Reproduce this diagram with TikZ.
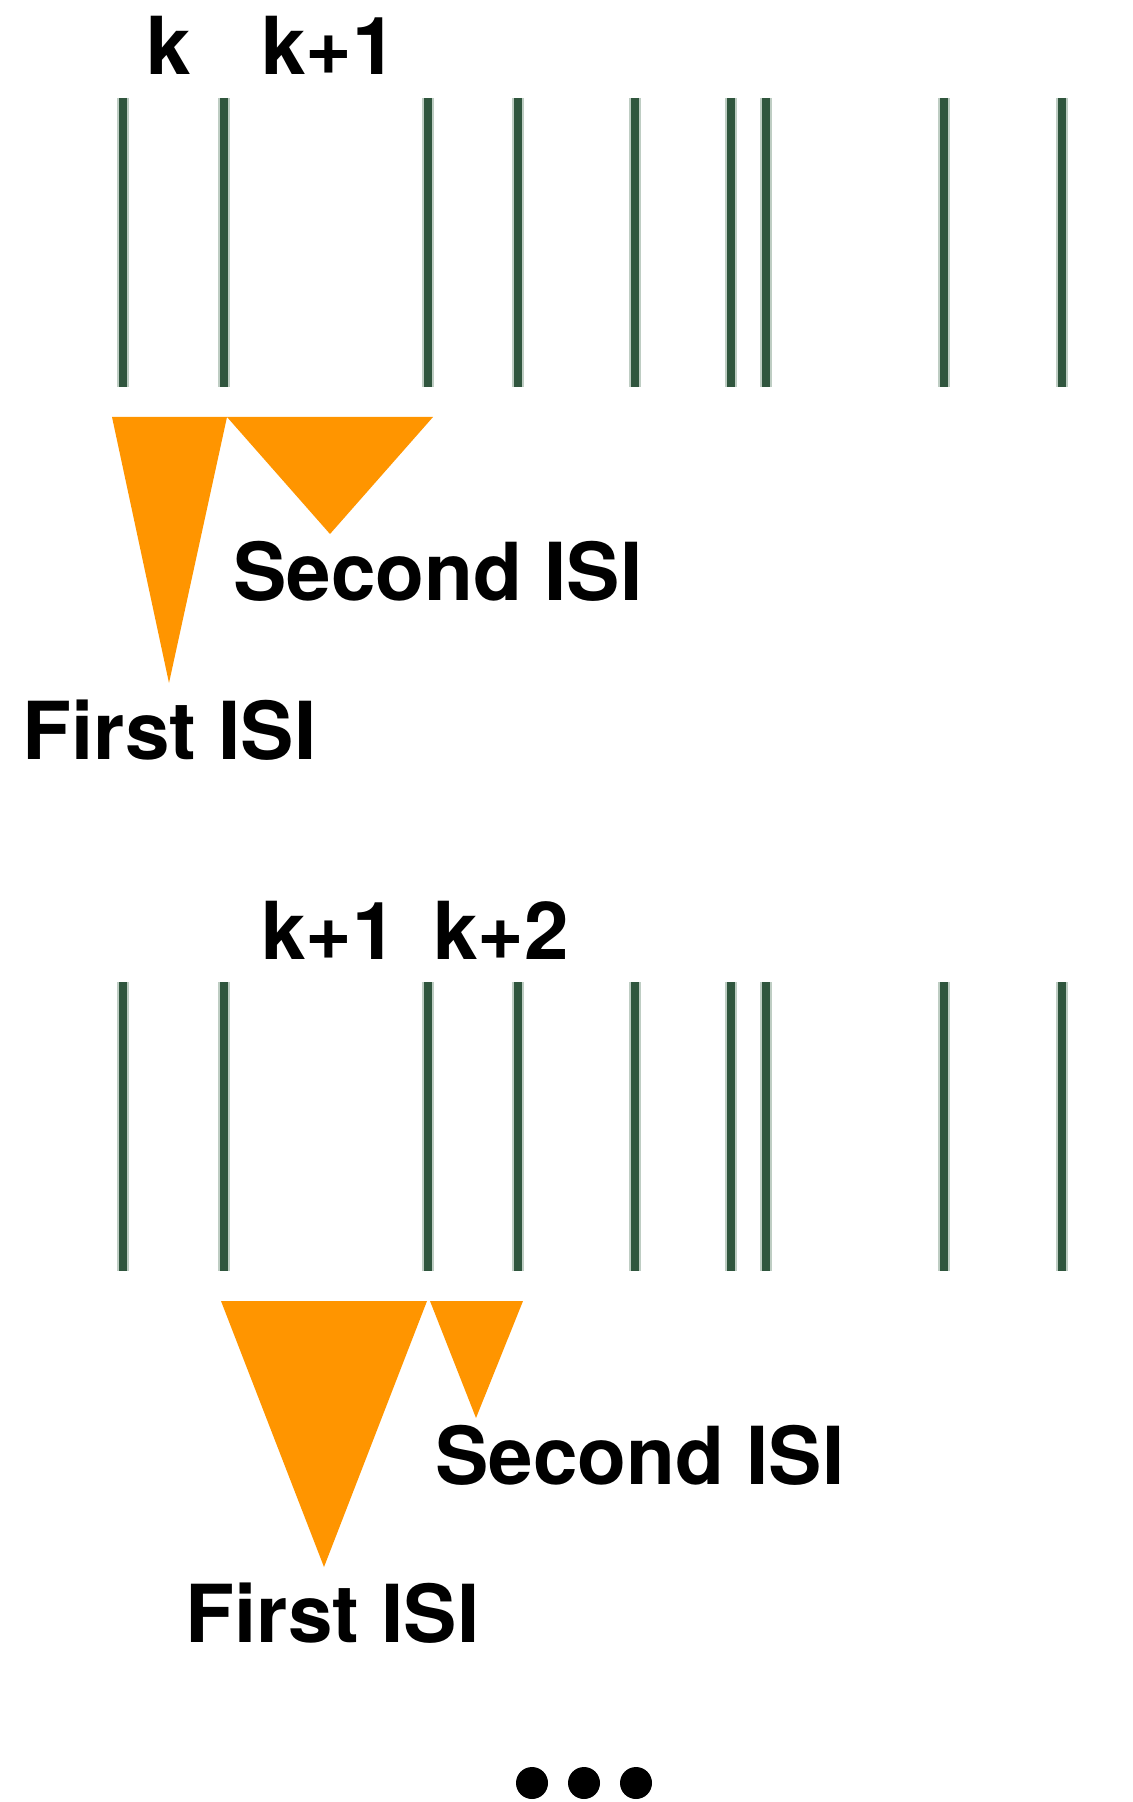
\documentclass[tikz,border=0pt]{standalone}
\usepackage{fontspec}
\setmainfont{TeX Gyre Heros}
\definecolor{spike}{RGB}{48,86,62}
\definecolor{halo}{RGB}{110,145,122}
\definecolor{isiorange}{RGB}{255,149,0}
\tikzset{
  lbl/.style={anchor=base west, inner sep=0pt, font=\fontsize{40}{48}\selectfont\bfseries, text=black},
  spikehalo/.style={draw=halo, line width=6pt, opacity=0.45},
  spikecore/.style={draw=spike, line width=4pt},
  isi/.style={fill=isiorange, draw=none},
  dot/.style={fill=black, draw=none}
}
\begin{document}
\begin{tikzpicture}[x=0.5pt,y=-0.5pt]
\useasboundingbox (0,0) rectangle (1133,1802);
% ---------- top spike train ----------
\node[lbl] (ka) at (146,75) {k};
\node[lbl] (kb) at (261,75) {k+1};
\foreach \x in {123,224,428,518,635,731,766,944,1062}{
  \draw[spikehalo] (\x,98) -- (\x,387);
  \draw[spikecore] (\x,98) -- (\x,387);
}
\fill[isi] (112,417) -- (227,417) -- (169,683) -- cycle;
\fill[isi] (227,417) -- (433,417) -- (330,534) -- cycle;
\node[lbl] (s1) at (233,600) {Second ISI};
\node[lbl] (f1) at (22,759) {First ISI};
% ---------- bottom spike train ----------
\node[lbl] (kc) at (261,959) {k+1};
\node[lbl] (kd) at (433,959) {k+2};
\foreach \x in {123,224,428,518,635,731,766,944,1062}{
  \draw[spikehalo] (\x,982) -- (\x,1271);
  \draw[spikecore] (\x,982) -- (\x,1271);
}
\fill[isi] (221,1301) -- (427,1301) -- (324,1567) -- cycle;
\fill[isi] (430,1301) -- (523,1301) -- (476,1418) -- cycle;
\node[lbl] (s2) at (435,1484) {Second ISI};
\node[lbl] (f2) at (185,1642) {First ISI};
% ---------- ellipsis ----------
\fill[dot] (532,1783) circle (16);
\fill[dot] (584,1783) circle (16);
\fill[dot] (636,1783) circle (16);
\end{tikzpicture}
\end{document}
